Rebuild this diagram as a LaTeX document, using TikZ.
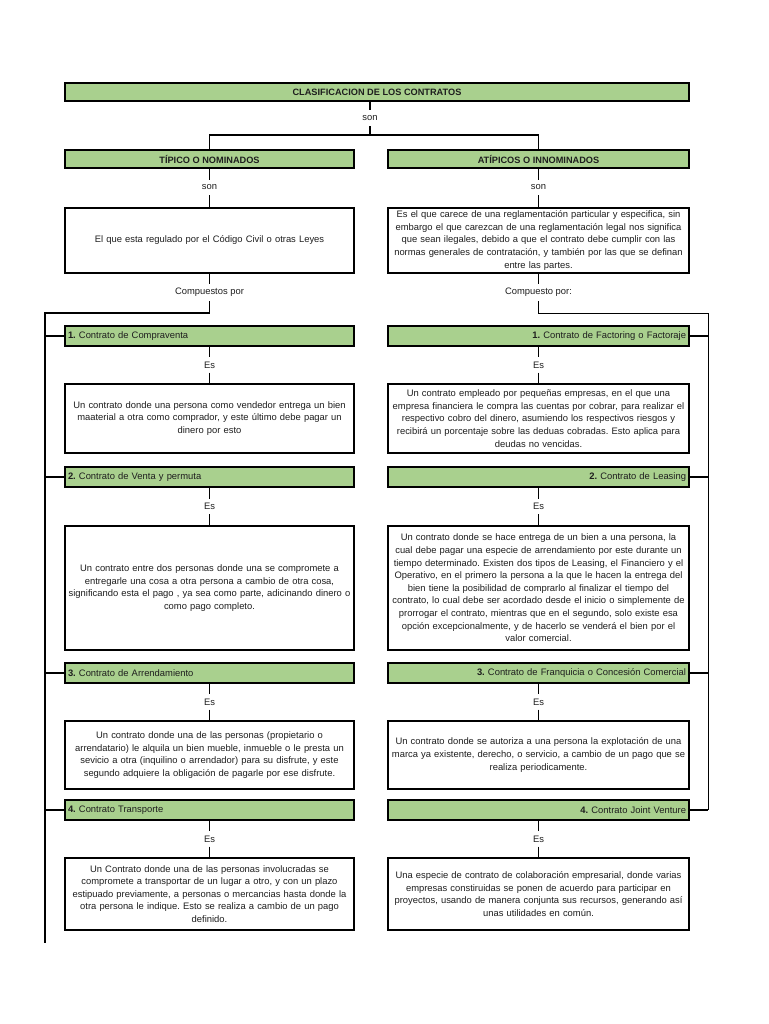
\documentclass[tikz,border=0pt]{standalone}
\usepackage{fontspec}
\setmainfont{Liberation Sans}
\definecolor{boxgreen}{HTML}{A9D08E}
\definecolor{txt}{HTML}{1E1E1E}
\frenchspacing
\begin{document}
\begin{tikzpicture}[x=1pt,y=-1pt,
  every node/.style={text=txt},
  hdbox/.style={draw=black, line width=1.5pt, fill=boxgreen, minimum height=18pt, inner sep=0pt, font=\fontsize{9.2}{10}\selectfont\bfseries},
  gbox/.style={draw=black, line width=1.5pt, fill=boxgreen, minimum height=20pt, inner xsep=3pt, inner ysep=0pt, font=\fontsize{9.4}{11}\selectfont},
  lgbox/.style={gbox, text width=283pt, align=left},
  rgbox/.style={gbox, text width=295pt, align=right},
  dbox/.style={draw=black, line width=1.5pt, fill=white, inner xsep=2pt, inner ysep=0pt, font=\fontsize{9.4}{12.6}\selectfont, align=center},
  ldbox/.style={dbox, text width=285pt},
  rdbox/.style={dbox, text width=297pt},
  lbl/.style={inner sep=0pt, minimum height=15pt, font=\fontsize{9.4}{11}\selectfont},
  lcon/.style={line width=1.5pt},
  rcon/.style={line width=1pt}
]
\useasboundingbox (0,0) rectangle (768,1024);
\fill[white] (0,0) rectangle (768,1024);

% top
\node[hdbox, minimum width=624pt] (title) at (377,92) {CLASIFICACION DE LOS CONTRATOS};
\node[lbl, minimum height=16pt] (son0) at (370,118) {son};
\coordinate (j0) at (370,135);
\node[hdbox, minimum width=289pt] (tip) at (209.5,159) {TÍPICO O NOMINADOS};
\node[hdbox, minimum width=301pt] (atip) at (538.5,159) {ATÍPICOS O INNOMINADOS};
\draw[lcon] (son0) -- (son0 |- title.south);
\draw[lcon] (son0) -- (j0);
\draw[lcon] (tip.north) |- (j0) -| (atip.north);

\node[lbl] (son1) at (209.5,187.5) {son};
\node[lbl] (son2) at (538.5,187.5) {son};

\node[ldbox, minimum height=65pt] (ldef) at (209.5,240.5) {El que esta regulado por el Código Civil o otras Leyes};
\node[rdbox, minimum height=65pt] (rdef) at (538.5,240.5) {Es el que carece de una reglamentación particular y especifica, sin\\
embargo el que carezcan de una reglamentación legal nos significa\\
que sean ilegales, debido a que el contrato debe cumplir con las\\
normas generales de contratación, y también por las que se definan\\
entre las partes.};
\draw[lcon] (tip) -- (son1) -- (ldef);
\draw[rcon] (atip) -- (son2) -- (rdef);

\node[lbl, minimum height=17pt] (lcomp) at (209.5,292.5) {Compuestos por};
\node[lbl, minimum height=17pt] (rcomp) at (538.5,292.5) {Compuesto por:};
\coordinate (lc) at (209.5,313);
\coordinate (lvtop) at (45,313);
\coordinate (lvbot) at (45,943);
\coordinate (rc) at (538.5,313);
\coordinate (rvtop) at (708,313);
\coordinate (rvbot) at (708,810);
\draw[lcon] (ldef) -- (lcomp) -- (lc) -- (lvtop) -- (lvbot);
\draw[rcon] (rdef) -- (rcomp) -- (rc) -- (rvtop) -- (rvbot);

% left column
\node[lgbox] (lg1) at (209.5,336) {\textbf{1.} Contrato de Compraventa};
\node[lgbox] (lg2) at (209.5,477) {\textbf{2.} Contrato de Venta y permuta};
\node[lgbox] (lg3) at (209.5,673) {\textbf{3.} Contrato de Arrendamiento};
\node[lgbox] (lg4) at (209.5,810) {\textbf{4.} Contrato Transporte};

\node[lbl] (les1) at (209.5,365) {Es};
\node[lbl] (les2) at (209.5,506.5) {Es};
\node[lbl] (les3) at (209.5,702) {Es};
\node[lbl] (les4) at (209.5,839) {Es};

\node[ldbox, minimum height=69pt] (ld1) at (209.5,418.5) {Un contrato donde una persona como vendedor entrega un bien\\
maaterial a otra como comprador, y este último debe pagar un\\
dinero por esto};
\node[ldbox, minimum height=124pt] (ld2) at (209.5,588) {Un contrato entre dos personas donde una se compromete a\\
entregarle una cosa a otra persona a cambio de otra cosa,\\
significando esta el pago , ya sea como parte, adicinando dinero o\\
como pago completo.};
\node[ldbox, minimum height=68pt] (ld3) at (209.5,755) {Un contrato donde una de las personas (propietario o\\
arrendatario) le alquila un bien mueble, inmueble o le presta un\\
sevicio a otra (inquilino o arrendador) para su disfrute, y este\\
segundo adquiere la obligación de pagarle por ese disfrute.};
\node[ldbox, minimum height=72pt] (ld4) at (209.5,894) {Un Contrato donde una de las personas involucradas se\\
compromete a transportar de un lugar a otro, y con un plazo\\
estipuado previamente, a personas o mercancias hasta donde la\\
otra persona le indique. Esto se realiza a cambio de un pago\\
definido.};

\foreach \i in {1,2,3,4}{
  \draw[lcon] (lg\i) -- (les\i) -- (ld\i);
  \draw[lcon] (lg\i.west) -- (lg\i.west -| lvtop);
}

% right column
\node[rgbox] (rg1) at (538.5,336) {\textbf{1.} Contrato de Factoring o Factoraje};
\node[rgbox] (rg2) at (538.5,477) {\textbf{2.} Contrato de Leasing};
\node[rgbox] (rg3) at (538.5,673) {\textbf{3.} Contrato de Franquicia o Concesión Comercial};
\node[rgbox] (rg4) at (538.5,810) {\textbf{4.} Contrato Joint Venture};

\node[lbl] (res1) at (538.5,365) {Es};
\node[lbl] (res2) at (538.5,506.5) {Es};
\node[lbl] (res3) at (538.5,702) {Es};
\node[lbl] (res4) at (538.5,839) {Es};

\node[rdbox, minimum height=69pt] (rd1) at (538.5,418.5) {Un contrato empleado por pequeñas empresas, en el que una\\
empresa financiera le compra las cuentas por cobrar, para realizar el\\
respectivo cobro del dinero, asumiendo los respectivos riesgos y\\
recibirá un porcentaje sobre las deduas cobradas. Esto aplica para\\
deudas no vencidas.};
\node[rdbox, minimum height=124pt] (rd2) at (538.5,588) {Un contrato donde se hace entrega de un bien a una persona, la\\
cual debe pagar una especie de arrendamiento por este durante un\\
tiempo determinado. Existen dos tipos de Leasing, el Financiero y el\\
Operativo, en el primero la persona a la que le hacen la entrega del\\
bien tiene la posibilidad de comprarlo al finalizar el tiempo del\\
contrato, lo cual debe ser acordado desde el inicio o simplemente de\\
prorrogar el contrato, mientras que en el segundo, solo existe esa\\
opción excepcionalmente, y de hacerlo se venderá el bien por el\\
valor comercial.};
\node[rdbox, minimum height=68pt] (rd3) at (538.5,755) {Un contrato donde se autoriza a una persona la explotación de una\\
marca ya existente, derecho, o servicio, a cambio de un pago que se\\
realiza periodicamente.};
\node[rdbox, minimum height=72pt] (rd4) at (538.5,894) {Una especie de contrato de colaboración empresarial, donde varias\\
empresas constiruidas se ponen de acuerdo para participar en\\
proyectos, usando de manera conjunta sus recursos, generando así\\
unas utilidades en común.};

\foreach \i in {1,2,3,4}{
  \draw[rcon] (rg\i) -- (res\i) -- (rd\i);
  \draw[lcon] (rg\i.east) -- (rg\i.east -| rvtop);
}
\end{tikzpicture}
\end{document}
